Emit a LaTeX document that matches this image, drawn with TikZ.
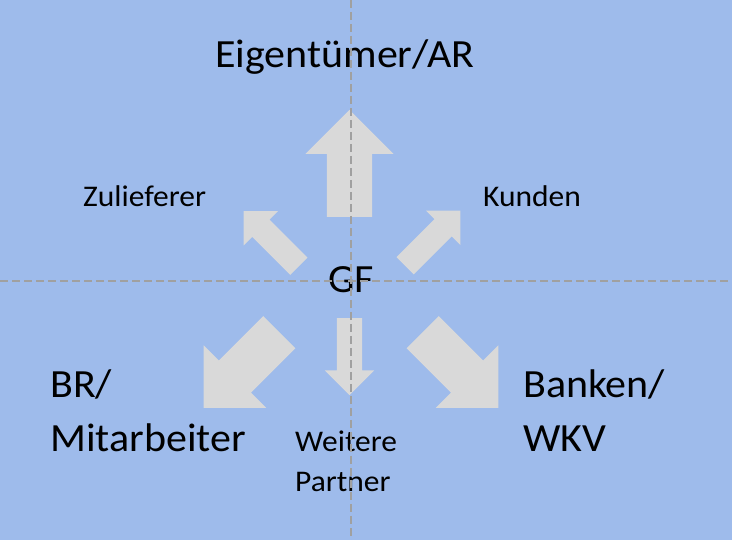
\documentclass[tikz,border=0pt]{standalone}
\usepackage{fontspec}
\setmainfont{Carlito}[FakeStretch=1.05]
\usetikzlibrary{shapes.arrows}
\definecolor{bgblue}{HTML}{9EBBEB}
\definecolor{arrowgray}{HTML}{D9D9D9}
\definecolor{guidegray}{HTML}{A0A0A0}
\tikzset{
	biglabel/.style={font=\fontsize{40}{54}\selectfont, inner sep=0pt, anchor=base west, align=left},
	smalllabel/.style={font=\fontsize{30}{40}\selectfont, inner sep=0pt, anchor=base west, align=left},
	bigarrow/.style={single arrow, fill=arrowgray, draw=none, anchor=tail,
		inner xsep=0pt, inner ysep=22.5pt, minimum height=107pt, single arrow head extend=21.5pt},
	smallarrow/.style={single arrow, fill=arrowgray, draw=none, anchor=tail,
		inner xsep=0pt, inner ysep=12pt, minimum height=78pt, single arrow head extend=12pt},
	guide/.style={guidegray, dash pattern=on 8pt off 4pt, line width=1.5pt}
}

\begin{document}
\begin{tikzpicture}[x=1pt, y=1pt]
	\fill[bgblue] (0,0) rectangle (732,540);
	\useasboundingbox (0,0) rectangle (732,540);

	% arrows out of GF
	\node[bigarrow, rotate=90] (toowner) at (349.5,323) {};
	\node[smallarrow, rotate=135] (tosupplier) at (299,273.5) {};
	\node[smallarrow, rotate=45] (tocustomer) at (405,274) {};
	\node[bigarrow, rotate=225] (tostaff) at (279.5,208) {};
	\node[bigarrow, rotate=-45] (tobanks) at (422.5,208) {};
	\node[smallarrow, rotate=-90, inner ysep=12.5pt, minimum height=77pt] (topartner) at (349.5,222) {};

	% labels (multi-line ones sit on their last line)
	\node[biglabel] (gf) at (328,247) {GF};
	\node[biglabel] (owner) at (215,472) {Eigentümer/AR};
	\node[smalllabel] (supplier) at (83,333) {Zulieferer};
	\node[smalllabel] (customer) at (483,333) {Kunden};
	\node[biglabel] (staff) at (50,88) {BR/\\Mitarbeiter};
	\node[biglabel] (banks) at (523,88) {Banken/\\WKV};
	\node[smalllabel] (partner) at (295,48) {Weitere\\Partner};

	% guide lines
	\coordinate (vtop) at (351,540);
	\coordinate (vbot) at (351,0);
	\coordinate (hleft) at (0,259);
	\coordinate (hright) at (732,259);
	\draw[guide] (vtop) -- (vbot);
	\draw[guide] (hleft) -- (hright);
\end{tikzpicture}
\end{document}
